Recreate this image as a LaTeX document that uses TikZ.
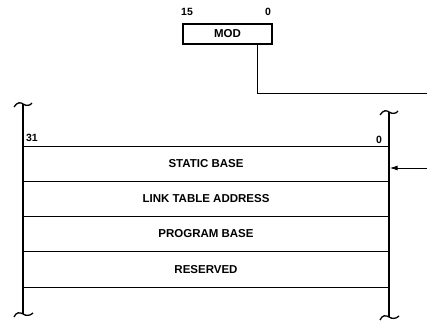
\documentclass[tikz,border=0pt]{standalone}
\usepackage{fontspec}
\setmainfont{Liberation Sans}
\usepackage{tikz}
\usetikzlibrary{arrows,arrows.meta,calc}

\begin{document}
\begin{tikzpicture}[x=1pt,y=-1pt,
		reg/.style={rectangle,draw,line width=1.3pt,inner sep=0pt,minimum width=89pt,minimum height=20pt,font=\bfseries\fontsize{11.5}{12}\selectfont},
		row/.style={rectangle,draw,line width=1.3pt,inner sep=0pt,minimum width=366pt,minimum height=35pt,font=\bfseries\fontsize{11.5}{12}\selectfont},
		bitno/.style={inner sep=0pt,font=\bfseries\fontsize{10.5}{11}\selectfont},
		wire/.style={line width=1pt},
		brk/.style={line width=1.3pt},
		]
		\useasboundingbox (0,0) rectangle (427,321);

		\node[reg](mod) at (227.5,34) {MOD};
		\node[bitno](m15) at (187,12) {15};
		\node[bitno](m0)  at (268,12) {0};

		\node[row](sb)  at (206,164) {STATIC BASE};
		\node[row](lta) at (206,199) {LINK TABLE ADDRESS};
		\node[row](pb)  at (206,234) {PROGRAM BASE};
		\node[row,minimum height=36pt](res) at (206,269.5) {RESERVED};
		\node[bitno](b31) at (32,138) {31};
		\node[bitno](b0)  at (379,140) {0};

		% bracket sides
		\draw[brk] (23,104) -- (23,314);
		\draw[brk] (389,112) -- (389,317);
		\draw[brk] (14,107) .. controls (17,102) and (21,102) .. (23,104) .. controls (26,106) and (30,106) .. (32,103);
		\draw[brk] (380,115) .. controls (383,110) and (387,110) .. (389,112) .. controls (392,114) and (396,114) .. (398,111);
		\draw[brk] (14,317) .. controls (16,312) and (20,312) .. (23,314) .. controls (26,316) and (30,316) .. (33,313);
		\draw[brk] (380,320) .. controls (382,315) and (386,315) .. (389,317) .. controls (392,319) and (396,319) .. (399,316);

		\coordinate (modout) at (427,93);
		\coordinate (sbin) at (427,168);
		\draw[wire] ([xshift=-15pt]mod.south east) |- (modout);
		\draw[wire,-{Latex[length=8pt,width=5pt]}] (sbin) -- (sbin -| sb.east);
\end{tikzpicture}
\end{document}
